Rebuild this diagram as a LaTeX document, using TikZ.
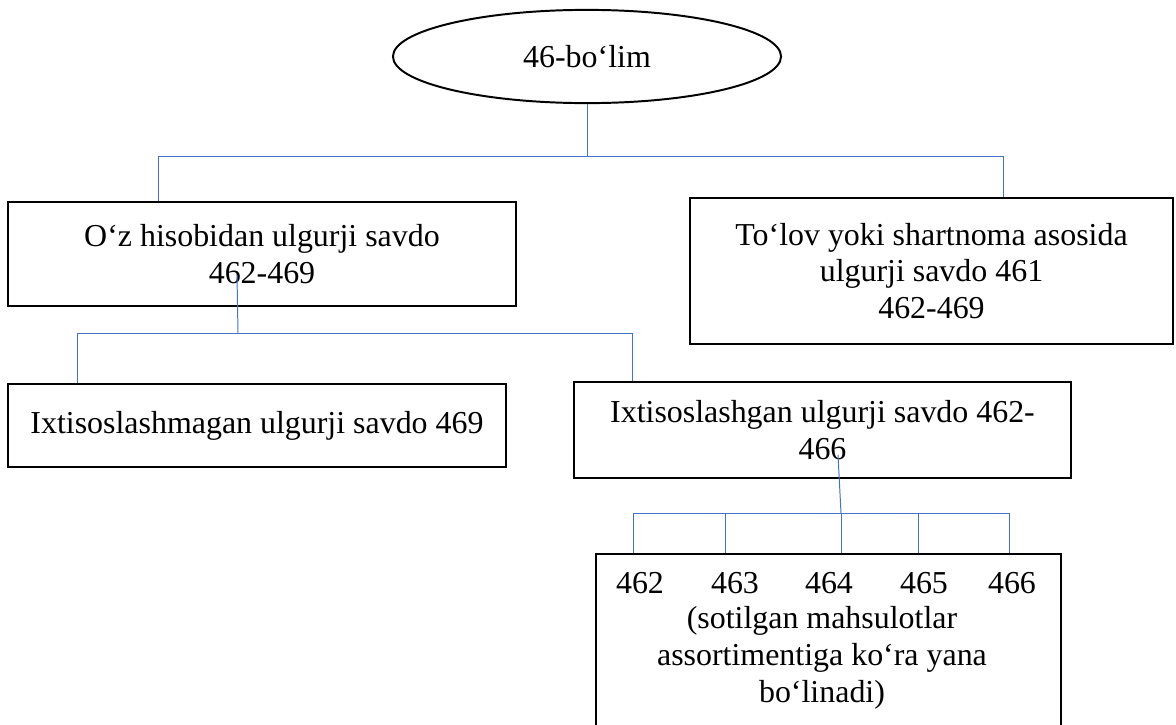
\documentclass[tikz,border=0pt]{standalone}
\usepackage{fontspec}
\setmainfont{Liberation Serif}
\usetikzlibrary{shapes.geometric}

\definecolor{linkblue}{HTML}{4472C4}
\tikzset{
  blok/.style={draw, line width=1.1pt, inner sep=0pt, align=center,
    font=\fontsize{22.7}{26}\selectfont},
  txt/.style={inner sep=0pt, align=center, font=\fontsize{22.7}{26}\selectfont},
  link/.style={draw=linkblue, line width=0.7pt}
}

\begin{document}
\begin{tikzpicture}[x=0.025cm,y=-0.025cm]
        % fix the page
        \path[use as bounding box,clip] (0,0) rectangle (1176,724);

        % draw the root
        \node[blok, ellipse, line width=1.4pt, minimum width=9.7cm, minimum height=2.33cm] (root) at (587,56.5) {46-bo‘lim};

        % draw the boxes
        \node[blok, minimum width=12.7cm, minimum height=2.6cm] (own) at (262,254) {O‘z hisobidan ulgurji savdo\\462-469};
        \node[blok, minimum width=12.075cm, minimum height=3.65cm] (paid) at (931.5,271) {To‘lov yoki shartnoma asosida\\ulgurji savdo 461\\462-469};
        \node[blok, minimum width=12.45cm, minimum height=2.075cm] (plain) at (257,425.5) {Ixtisoslashmagan ulgurji savdo 469};
        \node[blok, minimum width=12.425cm, minimum height=2.4cm] (spec) at (822.5,430) {Ixtisoslashgan ulgurji savdo 462-\\466};
        \node[blok, anchor=north, minimum width=11.625cm, minimum height=5.2cm] (sub) at (828.5,553) {};

        % text of the lower box
        \foreach \n/\x in {462/640, 463/735, 464/829, 465/924, 466/1012}
                \node[txt, anchor=base] (n\n) at (\x,593) {\n};
        \node[txt, anchor=base] (subtx) at (822,702) {(sotilgan mahsulotlar\\assortimentiga ko‘ra yana\\bo‘linadi)};

        % the points of the lines
        \coordinate (bus1l) at (158,156);
        \coordinate (bus1r) at (1003,156);
        \coordinate (ownk) at (237,275);
        \coordinate (bus2l) at (77,333);
        \coordinate (bus2r) at (632,333);
        \coordinate (speck) at (838,455);
        \coordinate (bus3l) at (633,513);
        \coordinate (bus3r) at (1009,513);

        % draw the lines
        \draw[link] (root.south) -- (root.south |- bus1l);
        \draw[link] (bus1l) -- (bus1r);
        \draw[link] (bus1l) -- (bus1l |- own.north);
        \draw[link] (bus1r) -- (bus1r |- paid.north);

        \draw[link] (ownk) -- (238,333);
        \draw[link] (bus2l) -- (bus2r);
        \draw[link] (bus2l) -- (bus2l |- plain.north);
        \draw[link] (bus2r) -- (bus2r |- spec.north);

        \draw[link] (speck) -- (841,513);
        \draw[link] (bus3l) -- (bus3r);
        \foreach \x in {633,725,841,918,1009}
                \draw[link] (\x,513) -- (\x,513 |- sub.north);

  \end{tikzpicture}
\end{document}
